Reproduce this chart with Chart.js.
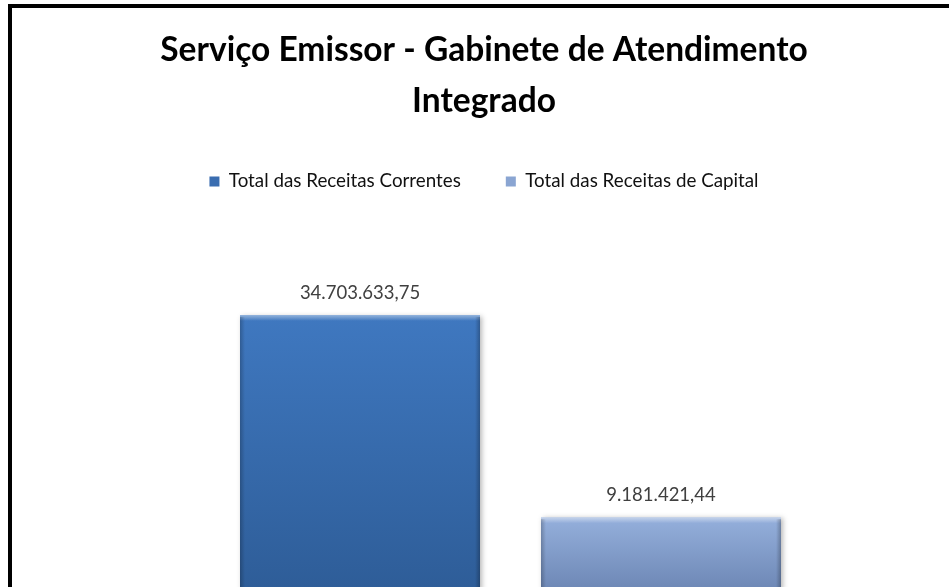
<!DOCTYPE html>
<html>
<head>
<meta charset="utf-8">
<script src="https://cdn.jsdelivr.net/npm/chart.js@4/dist/chart.umd.min.js"></script>
<style>
  html, body { margin: 0; padding: 0; background: #fff; overflow: hidden; }
  #quadro { position: absolute; left: 0; top: 0; width: 949px; height: 587px; overflow: hidden; }
  #caixa { position: absolute; left: 0; top: 0; width: 968px; height: 590px; }
  #moldura { position: absolute; left: 8px; top: 4px; width: 970px; height: 600px;
             border-left: 4px solid #000; border-top: 4px solid #000; pointer-events: none; }
</style>
</head>
<body>
<div id="quadro">
  <div id="caixa"><canvas id="grafico"></canvas></div>
  <div id="moldura"></div>
</div>
<script>
// Dados do gráfico
const titulo = ['Serviço Emissor - Gabinete de Atendimento', 'Integrado'];
const categorias = ['Receitas'];
const series = ['Total das Receitas Correntes', 'Total das Receitas de Capital'];
const valores = [34703633.75, 9181421.44];

// Cores
const coresTopo = ['#3f78c0', '#95b0dc'];
const coresBase = ['#2e5d98', '#6d87b5'];
const coresLegenda = ['#3a6db0', '#8aa5d2'];

const Y_MAX = 49100000;
const LARGURA_EIXO = 53;

// 34703633.75 -> "34.703.633,75"
function formatar(v) {
    const partes = v.toFixed(2).split('.');
    const inteiro = partes[0].replace(/\B(?=(\d{3})+(?!\d))/g, '.');
    return inteiro + ',' + partes[1];
}

function gradiente(i) {
    return function (context) {
        const chart = context.chart;
        const area = chart.chartArea;
        if (!area || !chart.scales.y) return coresTopo[i];
        const topo = chart.scales.y.getPixelForValue(valores[i]);
        const g = chart.ctx.createLinearGradient(0, topo, 0, area.bottom);
        g.addColorStop(0, coresTopo[i]);
        g.addColorStop(1, coresBase[i]);
        return g;
    };
}

// Sombra, relevo e rótulos das barras
const efeitos = {
    id: 'efeitos',
    beforeDatasetsDraw: function (chart) {
        const ctx = chart.ctx;
        ctx.save();
        ctx.shadowColor = 'rgba(0, 0, 0, 0.28)';
        ctx.shadowBlur = 5;
        ctx.shadowOffsetX = 2;
        ctx.shadowOffsetY = 1;
    },
    afterDatasetsDraw: function (chart) {
        const ctx = chart.ctx;
        ctx.restore();

        ctx.save();
        chart.data.datasets.forEach(function (ds, i) {
            chart.getDatasetMeta(i).data.forEach(function (bar) {
                const esq = bar.x - bar.width / 2;
                const alto = bar.base - bar.y;
                // brilho em cima
                const gTopo = ctx.createLinearGradient(0, bar.y, 0, bar.y + 6);
                gTopo.addColorStop(0, 'rgba(255,255,255,0.45)');
                gTopo.addColorStop(1, 'rgba(255,255,255,0)');
                ctx.fillStyle = gTopo;
                ctx.fillRect(esq, bar.y, bar.width, 6);
                // lados mais escuros
                const gEsq = ctx.createLinearGradient(esq, 0, esq + 5, 0);
                gEsq.addColorStop(0, 'rgba(0,0,0,0.22)');
                gEsq.addColorStop(1, 'rgba(0,0,0,0)');
                ctx.fillStyle = gEsq;
                ctx.fillRect(esq, bar.y + 2, 5, alto);
                const dir = esq + bar.width;
                const gDir = ctx.createLinearGradient(dir - 5, 0, dir, 0);
                gDir.addColorStop(0, 'rgba(0,0,0,0)');
                gDir.addColorStop(1, 'rgba(0,0,0,0.25)');
                ctx.fillStyle = gDir;
                ctx.fillRect(dir - 5, bar.y + 2, 5, alto);
            });
        });

        ctx.font = '18.5px Lato';
        ctx.fillStyle = '#404040';
        ctx.textAlign = 'center';
        ctx.textBaseline = 'middle';
        chart.data.datasets.forEach(function (ds, i) {
            chart.getDatasetMeta(i).data.forEach(function (bar, j) {
                ctx.fillText(formatar(ds.data[j]), bar.x, bar.y - 22);
            });
        });
        ctx.restore();
    }
};

Chart.defaults.font.family = 'Lato';

new Chart(document.querySelector('#grafico'), {
    type: 'bar',
    data: {
        labels: categorias,
        datasets: series.map(function (nome, i) {
            return {
                label: nome,
                data: [valores[i]],
                backgroundColor: gradiente(i),
                borderWidth: 0,
                categoryPercentage: 602 / (968 - LARGURA_EIXO),
                barPercentage: 240 / 301
            };
        })
    },
    options: {
        responsive: true,
        maintainAspectRatio: false,
        animation: false,
        layout: { padding: 0 },
        scales: {
            x: { display: false },
            y: {
                display: true,
                min: 0,
                max: Y_MAX,
                ticks: { display: false },
                grid: { display: false },
                border: { display: false },
                afterFit: function (scale) { scale.width = LARGURA_EIXO; }
            }
        },
        plugins: {
            title: {
                display: true,
                text: titulo,
                color: '#000',
                font: { size: 33.5, weight: 'bold', lineHeight: 51.5 / 33.5 },
                padding: { top: 24, bottom: 0 }
            },
            legend: {
                display: true,
                position: 'top',
                labels: {
                    color: '#111',
                    font: { size: 18.8 },
                    boxWidth: 10,
                    boxHeight: 10,
                    padding: 45,
                    generateLabels: function (chart) {
                        const itens = Chart.defaults.plugins.legend.labels.generateLabels(chart);
                        itens.forEach(function (item, i) {
                            item.fillStyle = coresLegenda[i];
                            item.strokeStyle = coresBase[i];
                            item.lineWidth = 0;
                        });
                        return itens;
                    }
                }
            },
            tooltip: { enabled: false }
        }
    },
    plugins: [efeitos]
});
</script>
</body>
</html>
